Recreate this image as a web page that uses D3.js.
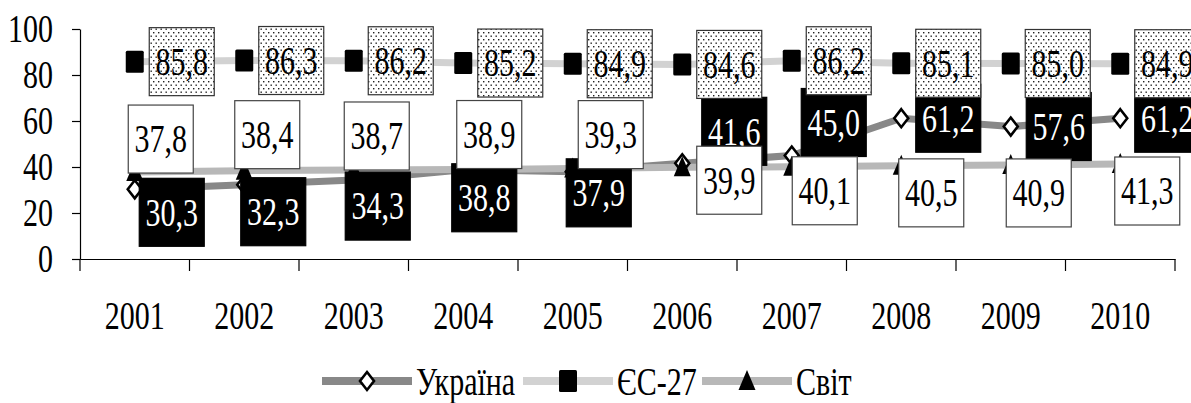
<!DOCTYPE html>
<html><head><meta charset="utf-8">
<script src="https://cdn.jsdelivr.net/npm/d3@7"></script>
<style>body{margin:0;background:#fff;} svg{display:block;}</style>
</head><body>
<script>
const years = ['2001','2002','2003','2004','2005','2006','2007','2008','2009','2010'];
const ukraine = [30.3,32.3,34.3,38.8,37.9,41.6,45.0,61.2,57.6,61.2];
const eu27 = [85.8,86.3,86.2,85.2,84.9,84.6,86.2,85.1,85.0,84.9];
const world = [37.8,38.4,38.7,38.9,39.3,39.9,40.1,40.5,40.9,41.3];
const yTicks = [0,20,40,60,80,100];
const seriesNames = ['Україна','ЄС-27','Світ'];

// label placement (box centre offset from point), kept apart from data
const ukrLabelOffset = [[37,23],[29,27],[24,26],[21,28],[26,21],[52,-32],[42,-33],[47,0],[48,0],[47,0]];
const worldLabelOffset = [[26,-33],[23,-36],[23,-34],[26,-35],[38,-34],[47,13],[33,24],[30,27],[28,28],[27,27]];
const euLabelOffset = years.map(() => [47,0]);

const W = 1191, H = 403;
const FONT = "Liberation Serif";
const SY = 1.3;
const svg = d3.select('body').append('svg').attr('width', W).attr('height', H);
svg.append('rect').attr('width', W).attr('height', H).attr('fill', '#fff');

const defs = svg.append('defs');
const pat = defs.append('pattern').attr('id','dots').attr('patternUnits','userSpaceOnUse')
  .attr('width',5).attr('height',7);
pat.append('rect').attr('width',5).attr('height',7).attr('fill','#fff');
pat.append('rect').attr('x',0.5).attr('y',0.5).attr('width',1.4).attr('height',1.4).attr('fill','#222');
pat.append('rect').attr('x',3).attr('y',4).attr('width',1.4).attr('height',1.4).attr('fill','#222');

const x = d3.scaleBand().domain(years).range([80,1175]);
const y = d3.scaleLinear().domain([0,100]).range([259,29]);
const cx = d => x(d) + x.bandwidth()/2;
const fmt = v => d3.format('.1f')(v).replace('.', ',');

// Y axis
const ya = svg.append('g').attr('transform','translate(80,0)')
  .call(d3.axisLeft(y).tickValues(yTicks).tickSize(8).tickSizeOuter(0).tickPadding(19));
ya.attr('font-family', FONT);
ya.select('.domain').attr('stroke','#000').attr('stroke-width',1.2);
ya.selectAll('.tick line').attr('stroke','#000').attr('stroke-width',1.2);
ya.selectAll('.tick text').attr('font-family',FONT).attr('font-size',30).attr('fill','#000')
  .attr('transform',`scale(1,${SY})`).attr('dy','0.33em');

// X axis
const xa = svg.append('g').attr('transform','translate(0,259)')
  .call(d3.axisBottom(x).tickSize(0).tickSizeOuter(0).tickPadding(0));
xa.attr('font-family', FONT);
xa.select('.domain').attr('stroke','#000').attr('stroke-width',1.2);
xa.selectAll('.tick text').attr('font-family',FONT).attr('font-size',30).attr('fill','#000')
  .attr('y',0).attr('dy','0.35em').attr('transform',`translate(0,56) scale(1,${SY})`);
const bounds = d3.range(years.length + 1).map(i => x.range()[0] + i * x.step());
svg.append('g').selectAll('line').data(bounds).join('line')
  .attr('x1',d=>d).attr('x2',d=>d).attr('y1',259).attr('y2',271)
  .attr('stroke','#000').attr('stroke-width',1.2);

// series definitions
const series = [
  {name: seriesNames[0], values: ukraine, color:'#888888', marker:'diamond', offs: ukrLabelOffset,
   boxFill:'#000', boxStroke:'#000', textFill:'#fff'},
  {name: seriesNames[1], values: eu27, color:'#d2d2d2', marker:'square', offs: euLabelOffset,
   boxFill:'url(#dots)', boxStroke:'#333', textFill:'#000'},
  {name: seriesNames[2], values: world, color:'#b8b8b8', marker:'triangle', offs: worldLabelOffset,
   boxFill:'#fff', boxStroke:'#444', textFill:'#000'}
];

function drawMarker(g, type){
  if (type === 'diamond') {
    g.append('path').attr('d','M0,-9L7,0L0,9L-7,0Z').attr('fill','#fff').attr('stroke','#000').attr('stroke-width',2.6);
  } else if (type === 'square') {
    g.append('rect').attr('x',-9).attr('y',-11).attr('width',18).attr('height',22).attr('rx',1.5).attr('fill','#000');
  } else {
    g.append('path').attr('d','M0,-11L8.5,9L-8.5,9Z').attr('fill','#000');
  }
}

const line = d3.line().x((d,i)=>cx(years[i])).y(d=>y(d));
series.forEach(s => {
  svg.append('path').datum(s.values).attr('d', line).attr('fill','none')
    .attr('stroke', s.color).attr('stroke-width', 7);
});
series.forEach(s => {
  s.values.forEach((v,i) => {
    const g = svg.append('g').attr('transform',`translate(${cx(years[i])},${y(v)})`);
    drawMarker(g, s.marker);
  });
});

// labels: Ukraine, then World, then EU on top
const BW = 65, BH = 68;
[series[0], series[2], series[1]].forEach(s => {
  const lg = svg.append('g');
  s.values.forEach((v,i) => {
    const px = cx(years[i]) + s.offs[i][0], py = y(v) + s.offs[i][1];
    lg.append('rect').attr('x', px - BW/2).attr('y', py - BH/2).attr('width', BW).attr('height', BH)
      .attr('fill', s.boxFill).attr('stroke', s.boxStroke).attr('stroke-width', 1.2);
    lg.append('text').attr('transform',`translate(${px},${py}) scale(1,${SY})`)
      .attr('text-anchor','middle').attr('dy','0.34em')
      .attr('font-family',FONT).attr('font-size',30).attr('fill', s.textFill).text(fmt(v));
  });
});

// legend
const legendItems = [
  {s: series[0], x0: 322},
  {s: series[1], x0: 523},
  {s: series[2], x0: 702}
];
const leg = svg.append('g');
legendItems.forEach(it => {
  leg.append('line').attr('x1', it.x0).attr('x2', it.x0 + 90).attr('y1', 381).attr('y2', 381)
    .attr('stroke', it.s.color).attr('stroke-width', 8);
  const g = leg.append('g').attr('transform', `translate(${it.x0 + 45},381)`);
  drawMarker(g, it.s.marker);
  leg.append('text').attr('transform', `translate(${it.x0 + 94},395) scale(1,${SY})`)
    .attr('font-family', FONT).attr('font-size', 30).attr('fill', '#000').text(it.s.name);
});
</script>
</body></html>
